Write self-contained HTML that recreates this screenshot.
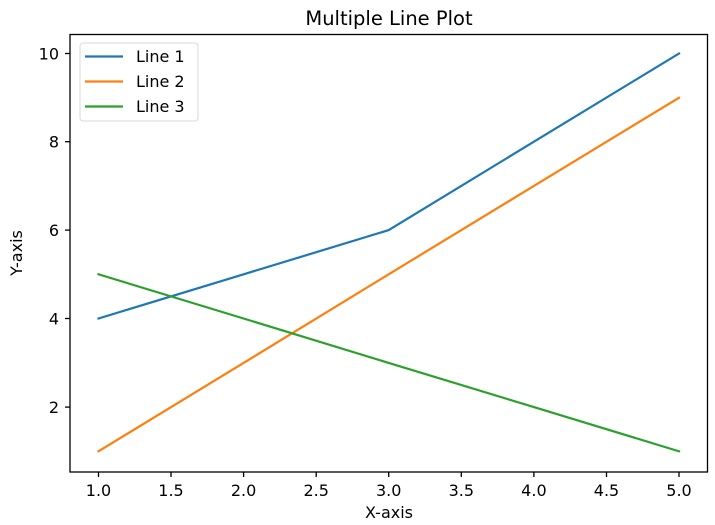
<!DOCTYPE html>
<html><head><style>body{margin:0;background:#fff}svg{display:block}text{font-family:"DejaVu Sans","Liberation Sans",sans-serif;fill:#000}</style></head>
<body>
<svg width="715" height="525" viewBox="0 0 715 525" xmlns="http://www.w3.org/2000/svg">
<rect width="715" height="525" fill="#fff"/>
<text x="389" y="25" font-size="19.5" text-anchor="middle">Multiple Line Plot</text>
<g stroke-width="2.2" fill="none" stroke-linecap="square">
<polyline stroke="#1f77b4" points="98.5,318.5 243.6,274.3 388.7,230.1 533.9,141.7 679,53.5"/>
<polyline stroke="#ff7f0e" points="98.5,451.3 243.6,362.9 388.7,274.3 533.9,185.9 679,97.7"/>
<polyline stroke="#2ca02c" points="98.5,274.3 243.6,318.5 388.7,362.9 533.9,407.1 679,451.3"/>
</g>
<rect x="70" y="34.5" width="637.5" height="437.5" fill="none" stroke="#000" stroke-width="1.3"/>
<g stroke="#000" stroke-width="1.3">
<line x1="98.5" y1="472" x2="98.5" y2="477"/><line x1="171" y1="472" x2="171" y2="477"/><line x1="243.6" y1="472" x2="243.6" y2="477"/><line x1="316.2" y1="472" x2="316.2" y2="477"/><line x1="388.7" y1="472" x2="388.7" y2="477"/><line x1="461.3" y1="472" x2="461.3" y2="477"/><line x1="533.9" y1="472" x2="533.9" y2="477"/><line x1="606.5" y1="472" x2="606.5" y2="477"/><line x1="679" y1="472" x2="679" y2="477"/>
<line x1="65" y1="53.5" x2="70" y2="53.5"/><line x1="65" y1="141.7" x2="70" y2="141.7"/><line x1="65" y1="230.1" x2="70" y2="230.1"/><line x1="65" y1="318.5" x2="70" y2="318.5"/><line x1="65" y1="407.1" x2="70" y2="407.1"/>
</g>
<g font-size="16" text-anchor="middle">
<text x="98.5" y="496">1.0</text><text x="171" y="496">1.5</text><text x="243.6" y="496">2.0</text><text x="316.2" y="496">2.5</text><text x="388.7" y="496">3.0</text><text x="461.3" y="496">3.5</text><text x="533.9" y="496">4.0</text><text x="606.5" y="496">4.5</text><text x="679" y="496">5.0</text>
</g>
<g font-size="16" text-anchor="end">
<text x="59" y="59.5">10</text><text x="59" y="147.7">8</text><text x="59" y="236.1">6</text><text x="59" y="324.5">4</text><text x="59" y="413.1">2</text>
</g>
<text x="389" y="518" font-size="16" text-anchor="middle">X-axis</text>
<text transform="translate(22,253) rotate(-90)" font-size="16" text-anchor="middle">Y-axis</text>
<rect x="80" y="43" width="118" height="78" rx="3" fill="#fff" fill-opacity="0.8" stroke="#d9d9d9"/>
<g stroke-width="2.2">
<line x1="85" y1="56.5" x2="123" y2="56.5" stroke="#1f77b4"/>
<line x1="85" y1="81.5" x2="123" y2="81.5" stroke="#ff7f0e"/>
<line x1="85" y1="106.5" x2="123" y2="106.5" stroke="#2ca02c"/>
</g>
<g font-size="16">
<text x="136" y="62">Line 1</text><text x="136" y="87">Line 2</text><text x="136" y="112">Line 3</text>
</g>
</svg>
</body></html>
